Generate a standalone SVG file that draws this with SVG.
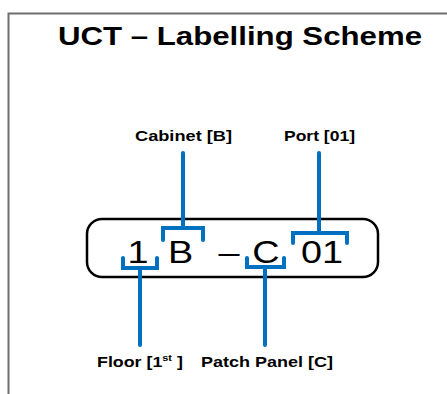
<svg xmlns="http://www.w3.org/2000/svg" width="447" height="394" viewBox="0 0 447 394">
<style>
.frame{fill:none;stroke:#6e6e6e;stroke-width:2}
.label{fill:none;stroke:#000;stroke-width:2.5}
.big{font-family:"Liberation Sans",Arial,sans-serif;font-size:31px;fill:#000;text-anchor:middle}
.lbl{font-family:"Liberation Sans",Arial,sans-serif;font-size:15.5px;font-weight:bold;fill:#000}
.title{font-family:"Liberation Sans",Arial,sans-serif;font-size:25.5px;font-weight:bold;fill:#000}
.conn path{fill:none;stroke:#0070C0;stroke-width:4;stroke-linecap:round;stroke-linejoin:miter}
</style>
<rect width="447" height="394" fill="#fff"/>
<path class="frame" d="M8.5,394 V13.5 H447"/>
<text class="title" x="58" y="45" textLength="364" lengthAdjust="spacingAndGlyphs">UCT – Labelling Scheme</text>
<g id="label-box">
<rect class="label" x="87" y="219" width="291" height="58" rx="15"/>
<text class="big" transform="matrix(1.22,0,0,1,138,263)">1</text>
<text class="big" transform="matrix(1.22,0,0,1,180.5,263)">B</text>
<text class="big" transform="matrix(1.22,0,0,1,229,263)">–</text>
<text class="big" transform="matrix(1.22,0,0,1,266,263)">C</text>
<text class="big" transform="matrix(1.22,0,0,1,322,263)">01</text>
</g>
<g id="connectors" class="conn">
<path d="M123,258 V268 H157 V258"/><path d="M140,268 V345"/>
<path d="M163,240 V228 H203 V240"/><path d="M183,228 V153"/>
<path d="M293,243 V233 H347 V243"/><path d="M319,233 V153"/>
<path d="M247,258 V267 H284 V258"/><path d="M265,267 V345"/>
</g>
<g id="cabinet"><text class="lbl" x="135" y="141" textLength="97" lengthAdjust="spacingAndGlyphs">Cabinet [B]</text></g>
<g id="port"><text class="lbl" x="284" y="141" textLength="71" lengthAdjust="spacingAndGlyphs">Port [01]</text></g>
<g id="floor"><text class="lbl" transform="matrix(1.15,0,0,1,97,367)">Floor [1<tspan font-size="9.5" dy="-6">st</tspan><tspan dy="6"> ]</tspan></text></g>
<g id="patch"><text class="lbl" x="201" y="367" textLength="132" lengthAdjust="spacingAndGlyphs">Patch Panel [C]</text></g>
</svg>
